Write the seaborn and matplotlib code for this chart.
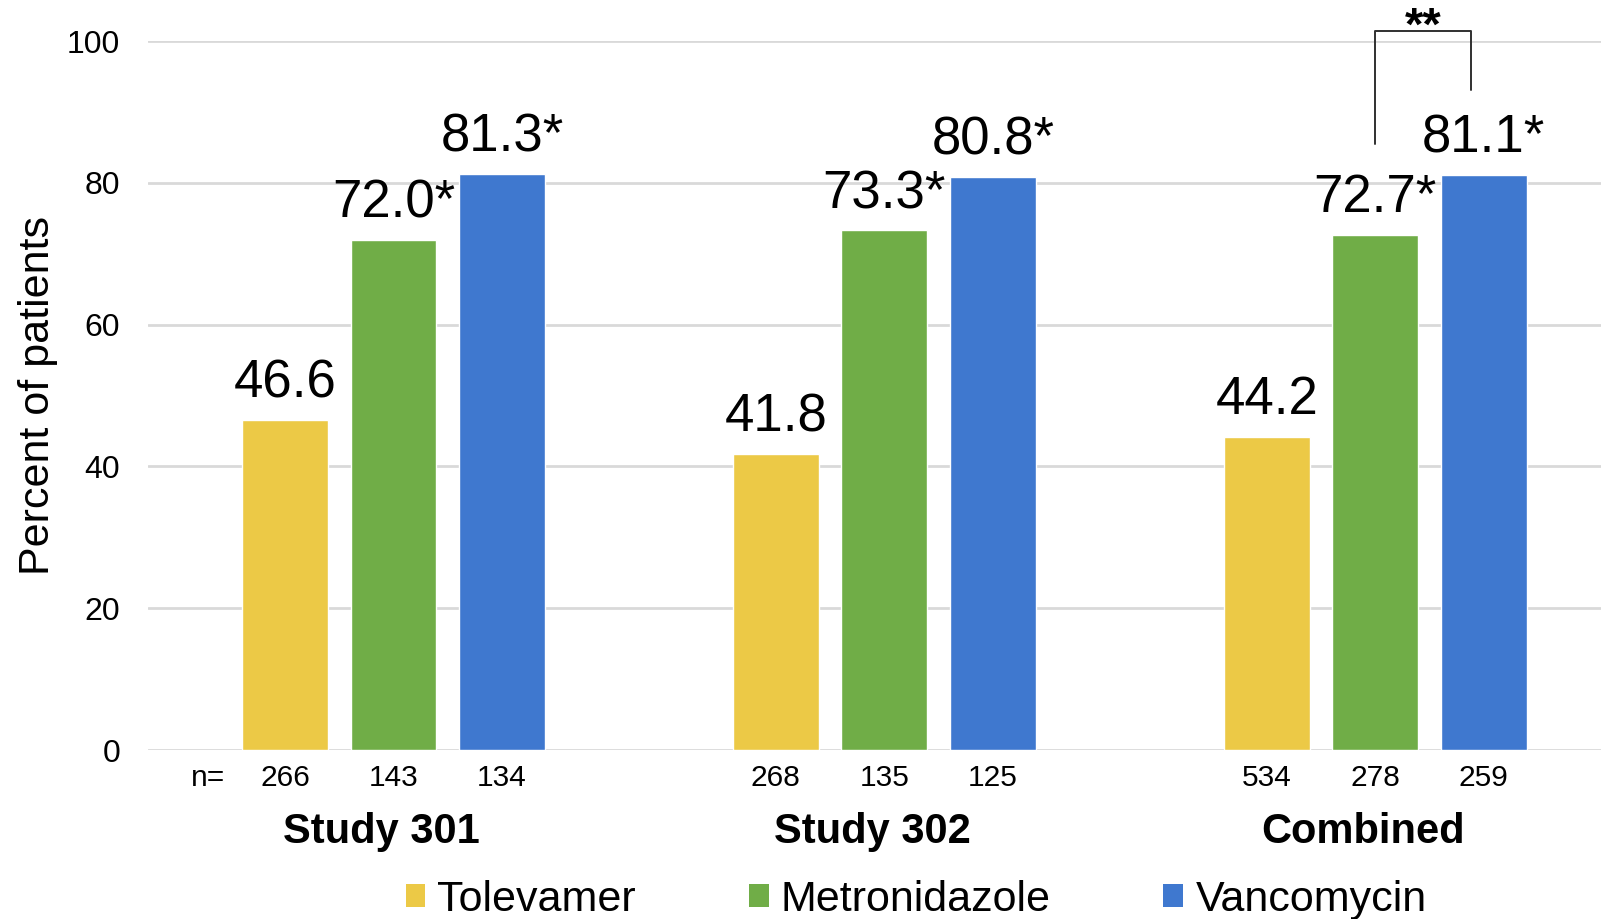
import matplotlib
matplotlib.use("Agg")
import matplotlib.pyplot as plt
import seaborn as sns
import pandas as pd

# Clinical response rates by study and treatment arm
studies = ["Study 301", "Study 302", "Combined"]
treatments = ["Tolevamer", "Metronidazole", "Vancomycin"]
tolevamer = [46.6, 41.8, 44.2]
metronidazole = [72.0, 73.3, 72.7]
vancomycin = [81.3, 80.8, 81.1]
n_tolevamer = [266, 268, 534]
n_metronidazole = [143, 135, 278]
n_vancomycin = [134, 125, 259]
significant = {"Tolevamer": False, "Metronidazole": True, "Vancomycin": True}
y_ticks = [0, 20, 40, 60, 80, 100]

colors = {"Tolevamer": "#ECC946", "Metronidazole": "#70AD47", "Vancomycin": "#3F78CF"}

values = {"Tolevamer": tolevamer, "Metronidazole": metronidazole, "Vancomycin": vancomycin}
counts = {"Tolevamer": n_tolevamer, "Metronidazole": n_metronidazole, "Vancomycin": n_vancomycin}

rows = []
for t in treatments:
    for s, v, n in zip(studies, values[t], counts[t]):
        rows.append({"study": s, "treatment": t, "pct": v, "n": n})
df = pd.DataFrame(rows)

sns.set_theme(style="white")
plt.rcParams["font.family"] = ["Liberation Sans", "DejaVu Sans"]
plt.rcParams["text.color"] = "black"

fig = plt.figure(figsize=(16.01, 9.19), dpi=100)
ax = fig.add_axes([148 / 1601, 1 - 750 / 919, 1 - 148 / 1601, (750 - 41) / 919])

group_width = 0.663
sns.barplot(data=df, x="study", y="pct", hue="treatment", order=studies,
            hue_order=treatments, palette=colors, width=group_width, gap=0.21,
            saturation=1, ax=ax, legend=True, zorder=3)

ax.set_ylim(0, 100)
ax.set_xlim(-0.5, 2.46)
ax.set_yticks(y_ticks)
ax.tick_params(axis="y", labelsize=23, length=0, pad=20, colors="black")
ax.tick_params(axis="x", length=0, labelbottom=False)
ax.yaxis.grid(True, color="#D9D9D9", linewidth=2, zorder=0)
ax.set_axisbelow(True)
for sp in ax.spines.values():
    sp.set_visible(False)
ax.set_xlabel("")
ax.set_ylabel("Percent of patients", fontsize=31, color="black")
ax.yaxis.set_label_coords((38 - 148) / (1601 - 148), 0.5)
ax.yaxis.label.set_va("center")

step = group_width / len(treatments)
offsets = [(i - 1) * step for i in range(len(treatments))]

# value labels, sample sizes
for j, t in enumerate(treatments):
    for i, s in enumerate(studies):
        x = i + offsets[j]
        v = values[t][i]
        label = f"{v:.1f}" + ("*" if significant[t] else "")
        ax.annotate(label, (x, v), xytext=(0, 16), textcoords="offset points",
                    ha="center", va="baseline", fontsize=38, color="black")
        ax.annotate(str(counts[t][i]), (x, 0), xytext=(0, -20),
                    textcoords="offset points", ha="center", va="center",
                    fontsize=21.5, color="black", annotation_clip=False)

ax.annotate("n=", (offsets[0] - step * 0.55, 0), xytext=(0, -20),
            textcoords="offset points", ha="right", va="center",
            fontsize=21.5, color="black", annotation_clip=False)

# study names
for i, s in enumerate(studies):
    ax.annotate(s, (i - 0.025, 0), xytext=(0, -59), textcoords="offset points",
                ha="center", va="center", fontsize=30, fontweight="bold",
                color="black", annotation_clip=False)

# significance bracket between metronidazole and vancomycin (combined)
xl = 2 + offsets[1]
xr = 2 + offsets[2] - 0.025
ax.plot([xl, xl, xr, xr], [85.5, 101.4, 101.4, 93.1], color="#303030",
        linewidth=1.4, clip_on=False, zorder=4)
ax.text((xl + xr) / 2, 100.2, "**", ha="center", va="baseline", fontsize=34,
        fontweight="bold", color="black", clip_on=False)

sns.move_legend(ax, "center", bbox_to_anchor=(916 / 1601, 1 - 900 / 919),
                bbox_transform=fig.transFigure, ncol=3, frameon=False,
                title=None, fontsize=31, handlelength=0.46, handleheight=0.46,
                handletextpad=0.28, columnspacing=2.62, borderpad=0, borderaxespad=0)
leg = ax.get_legend()
for h in leg.legend_handles:
    h.set_edgecolor("none")
for txt in leg.get_texts():
    txt.set_color("black")

fig.savefig("out.png", dpi=100)
